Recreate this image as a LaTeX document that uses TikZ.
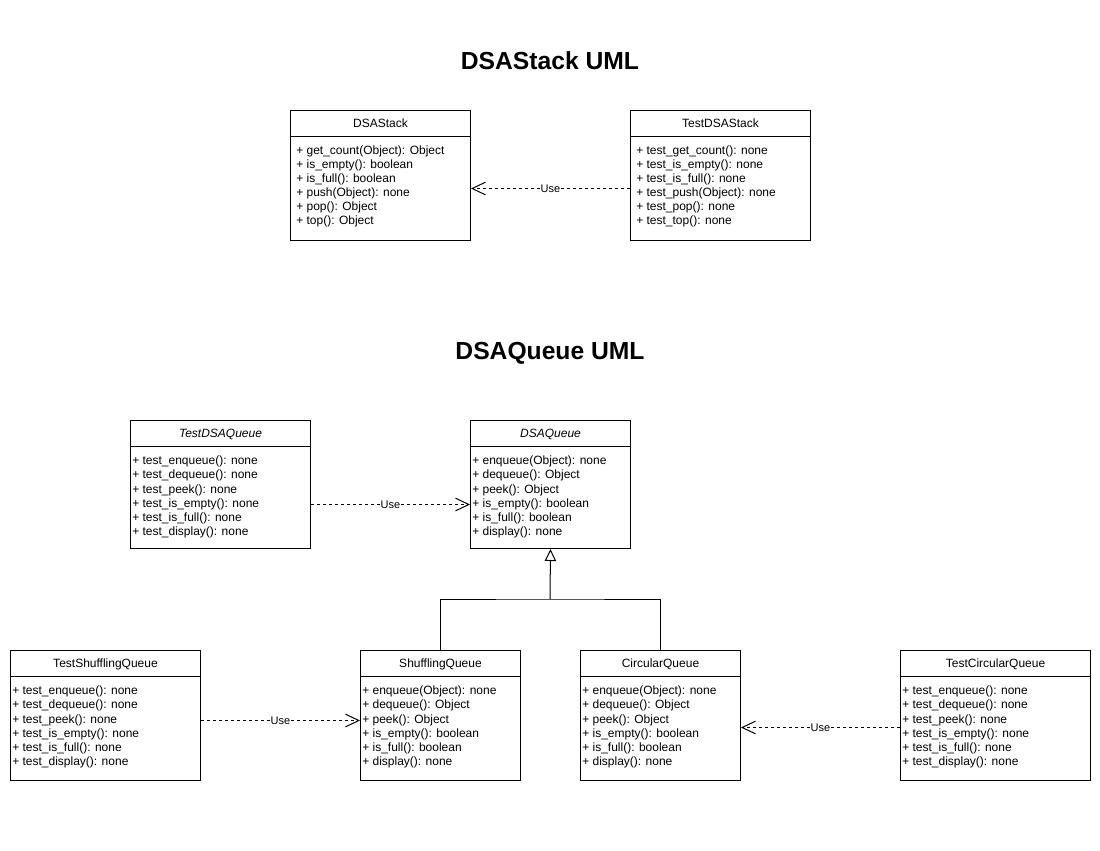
\documentclass[tikz,border=0pt]{standalone}
\usepackage{fontspec}
\setmainfont{Liberation Sans}
\usetikzlibrary{arrows.meta}
\tikzset{
  classbox/.style={draw, line width=0.75pt, rectangle, inner sep=0pt, fill=white},
  titletext/.style={font=\fontsize{9}{10.5}\selectfont, inner sep=0pt, text height=6.45pt, text depth=0pt},
  linetext/.style={font=\fontsize{9}{10.5}\selectfont, inner sep=0pt, anchor=base west},
  usearrow/.style={draw, line width=0.75pt, dash pattern=on 2.25pt off 2.25pt, -{Straight Barb[length=10pt,width=9.5pt]}},
  uselabel/.style={font=\fontsize{8.25}{9}\selectfont, fill=white, inner sep=0.8pt},
  inherit/.style={draw, line width=0.75pt},
  heading/.style={font=\fontsize{18.5}{20}\selectfont\bfseries, inner sep=0pt, text height=13.3pt, text depth=0pt},
}
\newcommand{\umlclass}[6]{%
  \node[classbox, #2, anchor=north west] (#1) at #3 {};
  \draw[line width=0.75pt] ([yshift=-19.5pt]#1.north west) -- ([yshift=-19.5pt]#1.north east);
  \node[titletext] (#1-title) at ([yshift=-9.75pt]#1.north) {#4};
  \foreach \ln [count=\i] in {#6} {\node[linetext] at ([xshift=#5, yshift={-(\i-1)*\lsep-33.4pt}]#1.north west) {\ln};}
}
\begin{document}
\begin{tikzpicture}[x=0.75pt, y=-0.75pt]
\path[use as bounding box, fill=white] (0,0) rectangle (1100,850);

\node[heading] (h1) at (550,61) {DSAStack UML};
\node[heading] (h2) at (550,351) {DSAQueue UML};

\def\lsep{10.5pt}
\umlclass{dsastack}{minimum width=135pt, minimum height=97.5pt}{(290,110)}{DSAStack}{4.5pt}{%
+ get\_count(Object): Object, + is\_empty(): boolean, + is\_full(): boolean, + push(Object): none, + pop(): Object, + top(): Object}
\umlclass{teststack}{minimum width=135pt, minimum height=97.5pt}{(630,110)}{TestDSAStack}{4.5pt}{%
+ test\_get\_count(): none, + test\_is\_empty(): none, + test\_is\_full(): none, + test\_push(Object): none, + test\_pop(): none, + test\_top(): none}

\def\lsep{10.7pt}
\umlclass{testqueue}{minimum width=135pt, minimum height=96pt}{(130,420)}{\itshape TestDSAQueue}{1.5pt}{%
+ test\_enqueue(): none, + test\_dequeue(): none, + test\_peek(): none, + test\_is\_empty(): none, + test\_is\_full(): none, + test\_display(): none}
\umlclass{dsaqueue}{minimum width=120pt, minimum height=96pt}{(470,420)}{\itshape DSAQueue}{1.5pt}{%
+ enqueue(Object): none, + dequeue(): Object, + peek(): Object, + is\_empty(): boolean, + is\_full(): boolean, + display(): none}

\umlclass{testshuf}{minimum width=142.5pt, minimum height=97.5pt}{(10,650)}{TestShufflingQueue}{1.5pt}{%
+ test\_enqueue(): none, + test\_dequeue(): none, + test\_peek(): none, + test\_is\_empty(): none, + test\_is\_full(): none, + test\_display(): none}
\umlclass{shuf}{minimum width=120pt, minimum height=97.5pt}{(360,650)}{ShufflingQueue}{1.5pt}{%
+ enqueue(Object): none, + dequeue(): Object, + peek(): Object, + is\_empty(): boolean, + is\_full(): boolean, + display(): none}
\umlclass{circ}{minimum width=120pt, minimum height=97.5pt}{(580,650)}{CircularQueue}{1.5pt}{%
+ enqueue(Object): none, + dequeue(): Object, + peek(): Object, + is\_empty(): boolean, + is\_full(): boolean, + display(): none}
\umlclass{testcirc}{minimum width=142.5pt, minimum height=97.5pt}{(900,650)}{TestCircularQueue}{1.5pt}{%
+ test\_enqueue(): none, + test\_dequeue(): none, + test\_peek(): none, + test\_is\_empty(): none, + test\_is\_full(): none, + test\_display(): none}

% dependencies
\draw[usearrow] ([yshift=-9.75pt]teststack.west) -- node[uselabel]{Use} ([yshift=-9.75pt]dsastack.east);
\draw[usearrow] ([yshift=-15pt]testqueue.east) -- node[uselabel]{Use} ([yshift=-15pt]dsaqueue.west);
\draw[usearrow] ([yshift=-3.75pt]testshuf.east) -- node[uselabel]{Use} ([yshift=-3.75pt]shuf.west);
\draw[usearrow] ([yshift=-9pt]testcirc.west) -- node[uselabel]{Use} ([yshift=-9pt]circ.east);

% inheritance
\coordinate (junc) at (550,599);
\draw[inherit] (shuf.north) |- (junc) -| (circ.north);
\draw[inherit, -{Triangle[open, length=9pt, width=8.5pt]}] (junc) -- (dsaqueue.south);
\end{tikzpicture}
\end{document}
